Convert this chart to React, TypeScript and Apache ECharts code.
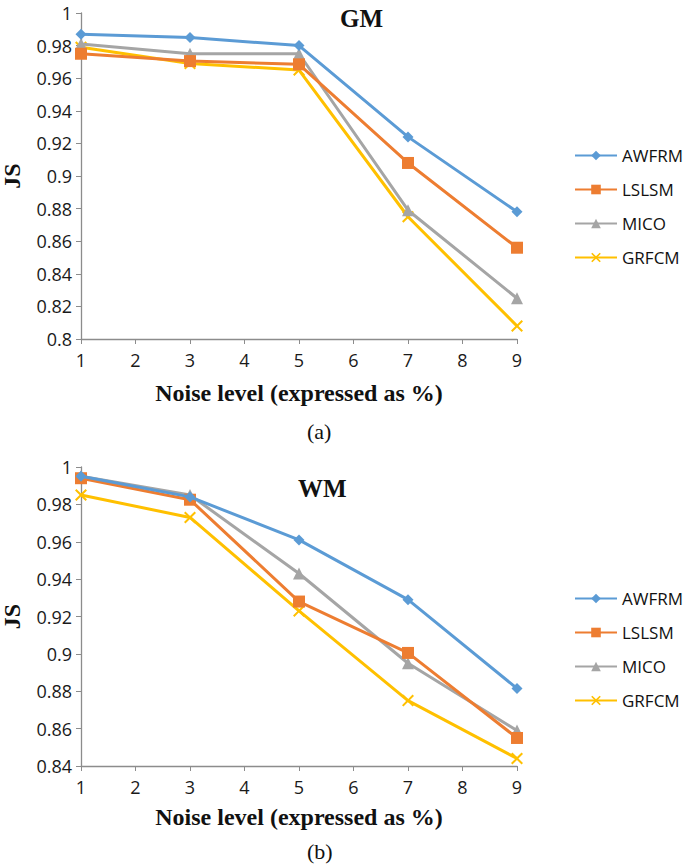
import React, { useEffect, useRef } from "react";
import * as echarts from "echarts";

const noiseLevels = [1, 3, 5, 7, 9];
const seriesNames = ["AWFRM", "LSLSM", "MICO", "GRFCM"];
const gmAWFRM = [0.987, 0.985, 0.98, 0.924, 0.878];
const gmLSLSM = [0.975, 0.9705, 0.9685, 0.908, 0.856];
const gmMICO = [0.981, 0.975, 0.975, 0.879, 0.825];
const gmGRFCM = [0.979, 0.969, 0.965, 0.875, 0.808];
const wmAWFRM = [0.995, 0.984, 0.961, 0.929, 0.8815];
const wmLSLSM = [0.994, 0.9825, 0.928, 0.9005, 0.855];
const wmMICO = [0.995, 0.985, 0.943, 0.895, 0.859];
const wmGRFCM = [0.985, 0.973, 0.923, 0.875, 0.844];

const colors = ["#5B9BD5", "#ED7D31", "#A5A5A5", "#FFC000"];
const symbols = [
  "diamond",
  "rect",
  "triangle",
  "path://M0,1.2 L1.2,0 L5,3.8 L8.8,0 L10,1.2 L6.2,5 L10,8.8 L8.8,10 L5,6.2 L1.2,10 L0,8.8 L3.8,5 Z",
];
const symbolSizes = [11, 12, 12, 12];

const tickFont = { fontFamily: "'Open Sans', sans-serif", fontSize: 18, color: "#1a1a1a" };
const serifBold = { fontFamily: "'Liberation Serif', 'DejaVu Serif', serif", fontWeight: "bold" as const, color: "#111" };

export default function App() {
  const ref = useRef<HTMLDivElement>(null);
  useEffect(() => {
    if (!ref.current) return;
    const chart = echarts.init(ref.current, undefined, { renderer: "svg" });
    const gm = [gmAWFRM, gmLSLSM, gmMICO, gmGRFCM];
    const wm = [wmAWFRM, wmLSLSM, wmMICO, wmGRFCM];
    const mk = (data: number[][], idx: number) =>
      seriesNames.map((name, i) => ({
        type: "line",
        name,
        xAxisIndex: idx,
        yAxisIndex: idx,
        data: noiseLevels.map((x, j) => [x, data[i][j]]),
        symbol: symbols[i],
        symbolSize: symbolSizes[i],
        showAllSymbol: true,
        lineStyle: { color: colors[i], width: 3 },
        itemStyle: { color: colors[i] },
        z: 10 - i,
      }));
    const xAxisBase = (gridIndex: number, gap: number) => ({
      type: "value",
      gridIndex,
      min: 1,
      max: 9,
      interval: 1,
      name: "Noise level (expressed as %)",
      nameLocation: "middle",
      nameGap: gap,
      nameTextStyle: { ...serifBold, fontSize: 24 },
      axisLine: { lineStyle: { color: "#8c8c8c", width: 1.3 } },
      axisTick: { show: true, length: 5, lineStyle: { color: "#8c8c8c" } },
      axisLabel: { ...tickFont, margin: 12 },
      splitLine: { show: false },
    });
    const yAxisBase = (gridIndex: number, min: number) => ({
      type: "value",
      gridIndex,
      min,
      max: 1,
      interval: 0.02,
      name: "JS",
      nameLocation: "middle",
      nameRotate: 90,
      nameGap: 57,
      nameTextStyle: { ...serifBold, fontSize: 24 },
      axisLine: { show: true, lineStyle: { color: "#8c8c8c", width: 1.3 } },
      axisTick: { show: true, length: 5, lineStyle: { color: "#8c8c8c" } },
      axisLabel: { ...tickFont, margin: 9, lineHeight: 18 },
      splitLine: { show: false },
    });
    const legendBase = (top: number) => ({
      orient: "vertical",
      left: 569,
      top,
      itemGap: 17,
      itemWidth: 42,
      itemHeight: 12,
      data: seriesNames,
      textStyle: { ...tickFont, fontSize: 17, color: "#111", padding: [0, 0, 0, 0] },
    });
    chart.setOption({
      animation: false,
      backgroundColor: "#fff",
      grid: [
        { left: 81, right: 168, top: 13, height: 326, outerBoundsMode: "none", containLabel: false },
        { left: 81, right: 168, top: 467, height: 299, outerBoundsMode: "none", containLabel: false },
      ],
      xAxis: [xAxisBase(0, 42), xAxisBase(1, 39)],
      yAxis: [yAxisBase(0, 0.8), yAxisBase(1, 0.84)],
      legend: [legendBase(142), legendBase(585)],
      title: [
        { text: "GM", left: 340, top: 6, padding: 0, textStyle: { ...serifBold, fontSize: 25 } },
        { text: "WM", left: 298, top: 476, padding: 0, textStyle: { ...serifBold, fontSize: 25 } },
      ],
      graphic: [
        { type: "text", left: 307, top: 420, style: { text: "(a)", font: "22px 'Liberation Serif', serif", fill: "#111" } },
        { type: "text", left: 307, top: 840, style: { text: "(b)", font: "22px 'Liberation Serif', serif", fill: "#111" } },
      ],
      series: [...mk(gm, 0), ...mk(wm, 1)],
    });
    return () => chart.dispose();
  }, []);
  return <div ref={ref} style={{ width: 685, height: 865, position: "absolute", left: 0, top: 0 }} />;
}
